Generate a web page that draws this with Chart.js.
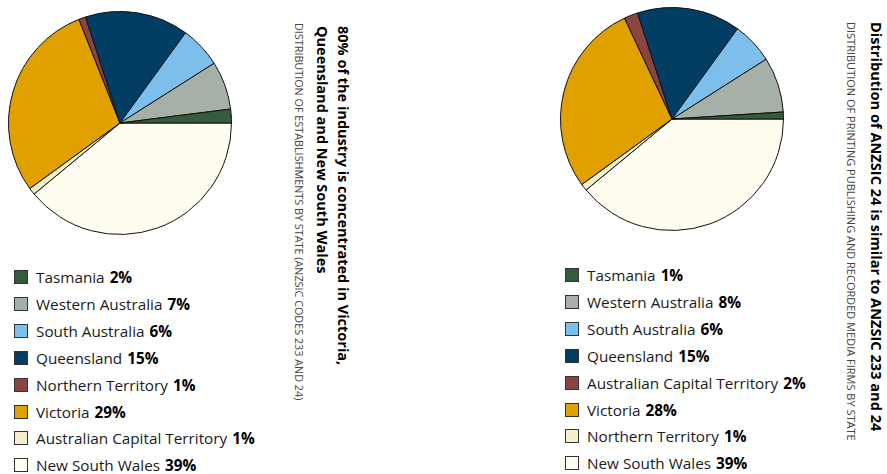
<!DOCTYPE html>
<html>
<head>
<meta charset="utf-8">
<script src="https://cdn.jsdelivr.net/npm/chart.js@4"></script>
<style>
  html, body { margin: 0; padding: 0; background: #fff; }
  #page { position: relative; width: 887px; height: 474px; overflow: hidden; font-family: 'Open Sans', sans-serif; color: #1a1a1a; }
  canvas { position: absolute; }
  .legend { position: absolute; margin: 0; padding: 0; list-style: none; font-size: 15.3px; }
  .legend li { position: absolute; left: 0; height: 20px; line-height: 20px; white-space: nowrap; }
  .legend .box { position: absolute; left: 0; top: 3px; width: 12px; height: 12px; border: 1px solid #333; }
  .legend .name { position: absolute; left: 22px; top: 0; }
  .legend b { margin-left: 5px; font-weight: 700; color: #000; }
  .vtitle { position: absolute; writing-mode: vertical-rl; white-space: nowrap; }
  .vtitle.main { font-weight: 700; color: #000; }
  .vtitle.sub { color: #444; text-transform: uppercase; }
</style>
</head>
<body>
<div id="page">
  <canvas id="pieLeft" width="224" height="224" style="left:8px;top:11px"></canvas>
  <canvas id="pieRight" width="224" height="224" style="left:560px;top:7px"></canvas>
  <ul class="legend" id="legendLeft" style="left:14px;top:0"></ul>
  <ul class="legend" id="legendRight" style="left:565px;top:0"></ul>

  <div class="vtitle main" style="left:312px;top:26px;font-size:14.5px;line-height:21px">80% of the industry is concentrated in Victoria,<br>Queensland and New South Wales</div>
  <div class="vtitle sub" style="left:291px;top:23px;font-size:10.8px;line-height:16px">Distribution of establishments by state (ANZSIC codes 233 and 24)</div>

  <div class="vtitle main" style="left:866px;top:22px;font-size:14.6px;line-height:21px">Distribution of ANZSIC 24 is similar to ANZSIC 233 and 24</div>
  <div class="vtitle sub" style="left:843px;top:22px;font-size:11px;line-height:16px">Distribution of printing publishing and recorded media firms by state</div>
</div>
<script>
// slices listed counter-clockwise from 3 o'clock, as in the legend
const statesLeft = ['Tasmania', 'Western Australia', 'South Australia', 'Queensland', 'Northern Territory', 'Victoria', 'Australian Capital Territory', 'New South Wales'];
const sharesLeft = [2, 7, 6, 15, 1, 29, 1, 39];

const statesRight = ['Tasmania', 'Western Australia', 'South Australia', 'Queensland', 'Australian Capital Territory', 'Victoria', 'Northern Territory', 'New South Wales'];
const sharesRight = [1, 8, 6, 15, 2, 28, 1, 39];

const slotColors = ['#355a3c', '#a7b0a7', '#7bbfea', '#023e63', '#8b4541', '#e0a000', '#f5eecb', '#fffdf0'];

function drawPie(canvasId, labels, values) {
  // Chart.js goes clockwise, the original runs counter-clockwise, so flip the order
  new Chart(document.getElementById(canvasId), {
    type: 'pie',
    data: {
      labels: labels.slice().reverse(),
      datasets: [
        {
          data: values.slice().reverse(),
          backgroundColor: slotColors.slice().reverse(),
          borderColor: '#111',
          borderWidth: 1,
        },
      ],
    },
    options: {
      responsive: false,
      animation: false,
      rotation: 90,
      plugins: {
        legend: { display: false },
        tooltip: { enabled: false },
      },
    },
  });
}

function drawLegend(listId, labels, values, firstRow) {
  const list = document.getElementById(listId);
  labels.forEach((label, i) => {
    const li = document.createElement('li');
    li.style.top = (firstRow + i * 26.9 - 10) + 'px';
    li.innerHTML = '<span class="box" style="background:' + slotColors[i] + '"></span>' +
      '<span class="name">' + label + '<b>' + values[i] + '%</b></span>';
    list.appendChild(li);
  });
}

drawPie('pieLeft', statesLeft, sharesLeft);
drawPie('pieRight', statesRight, sharesRight);
drawLegend('legendLeft', statesLeft, sharesLeft, 277);
drawLegend('legendRight', statesRight, sharesRight, 275);
</script>
</body>
</html>
